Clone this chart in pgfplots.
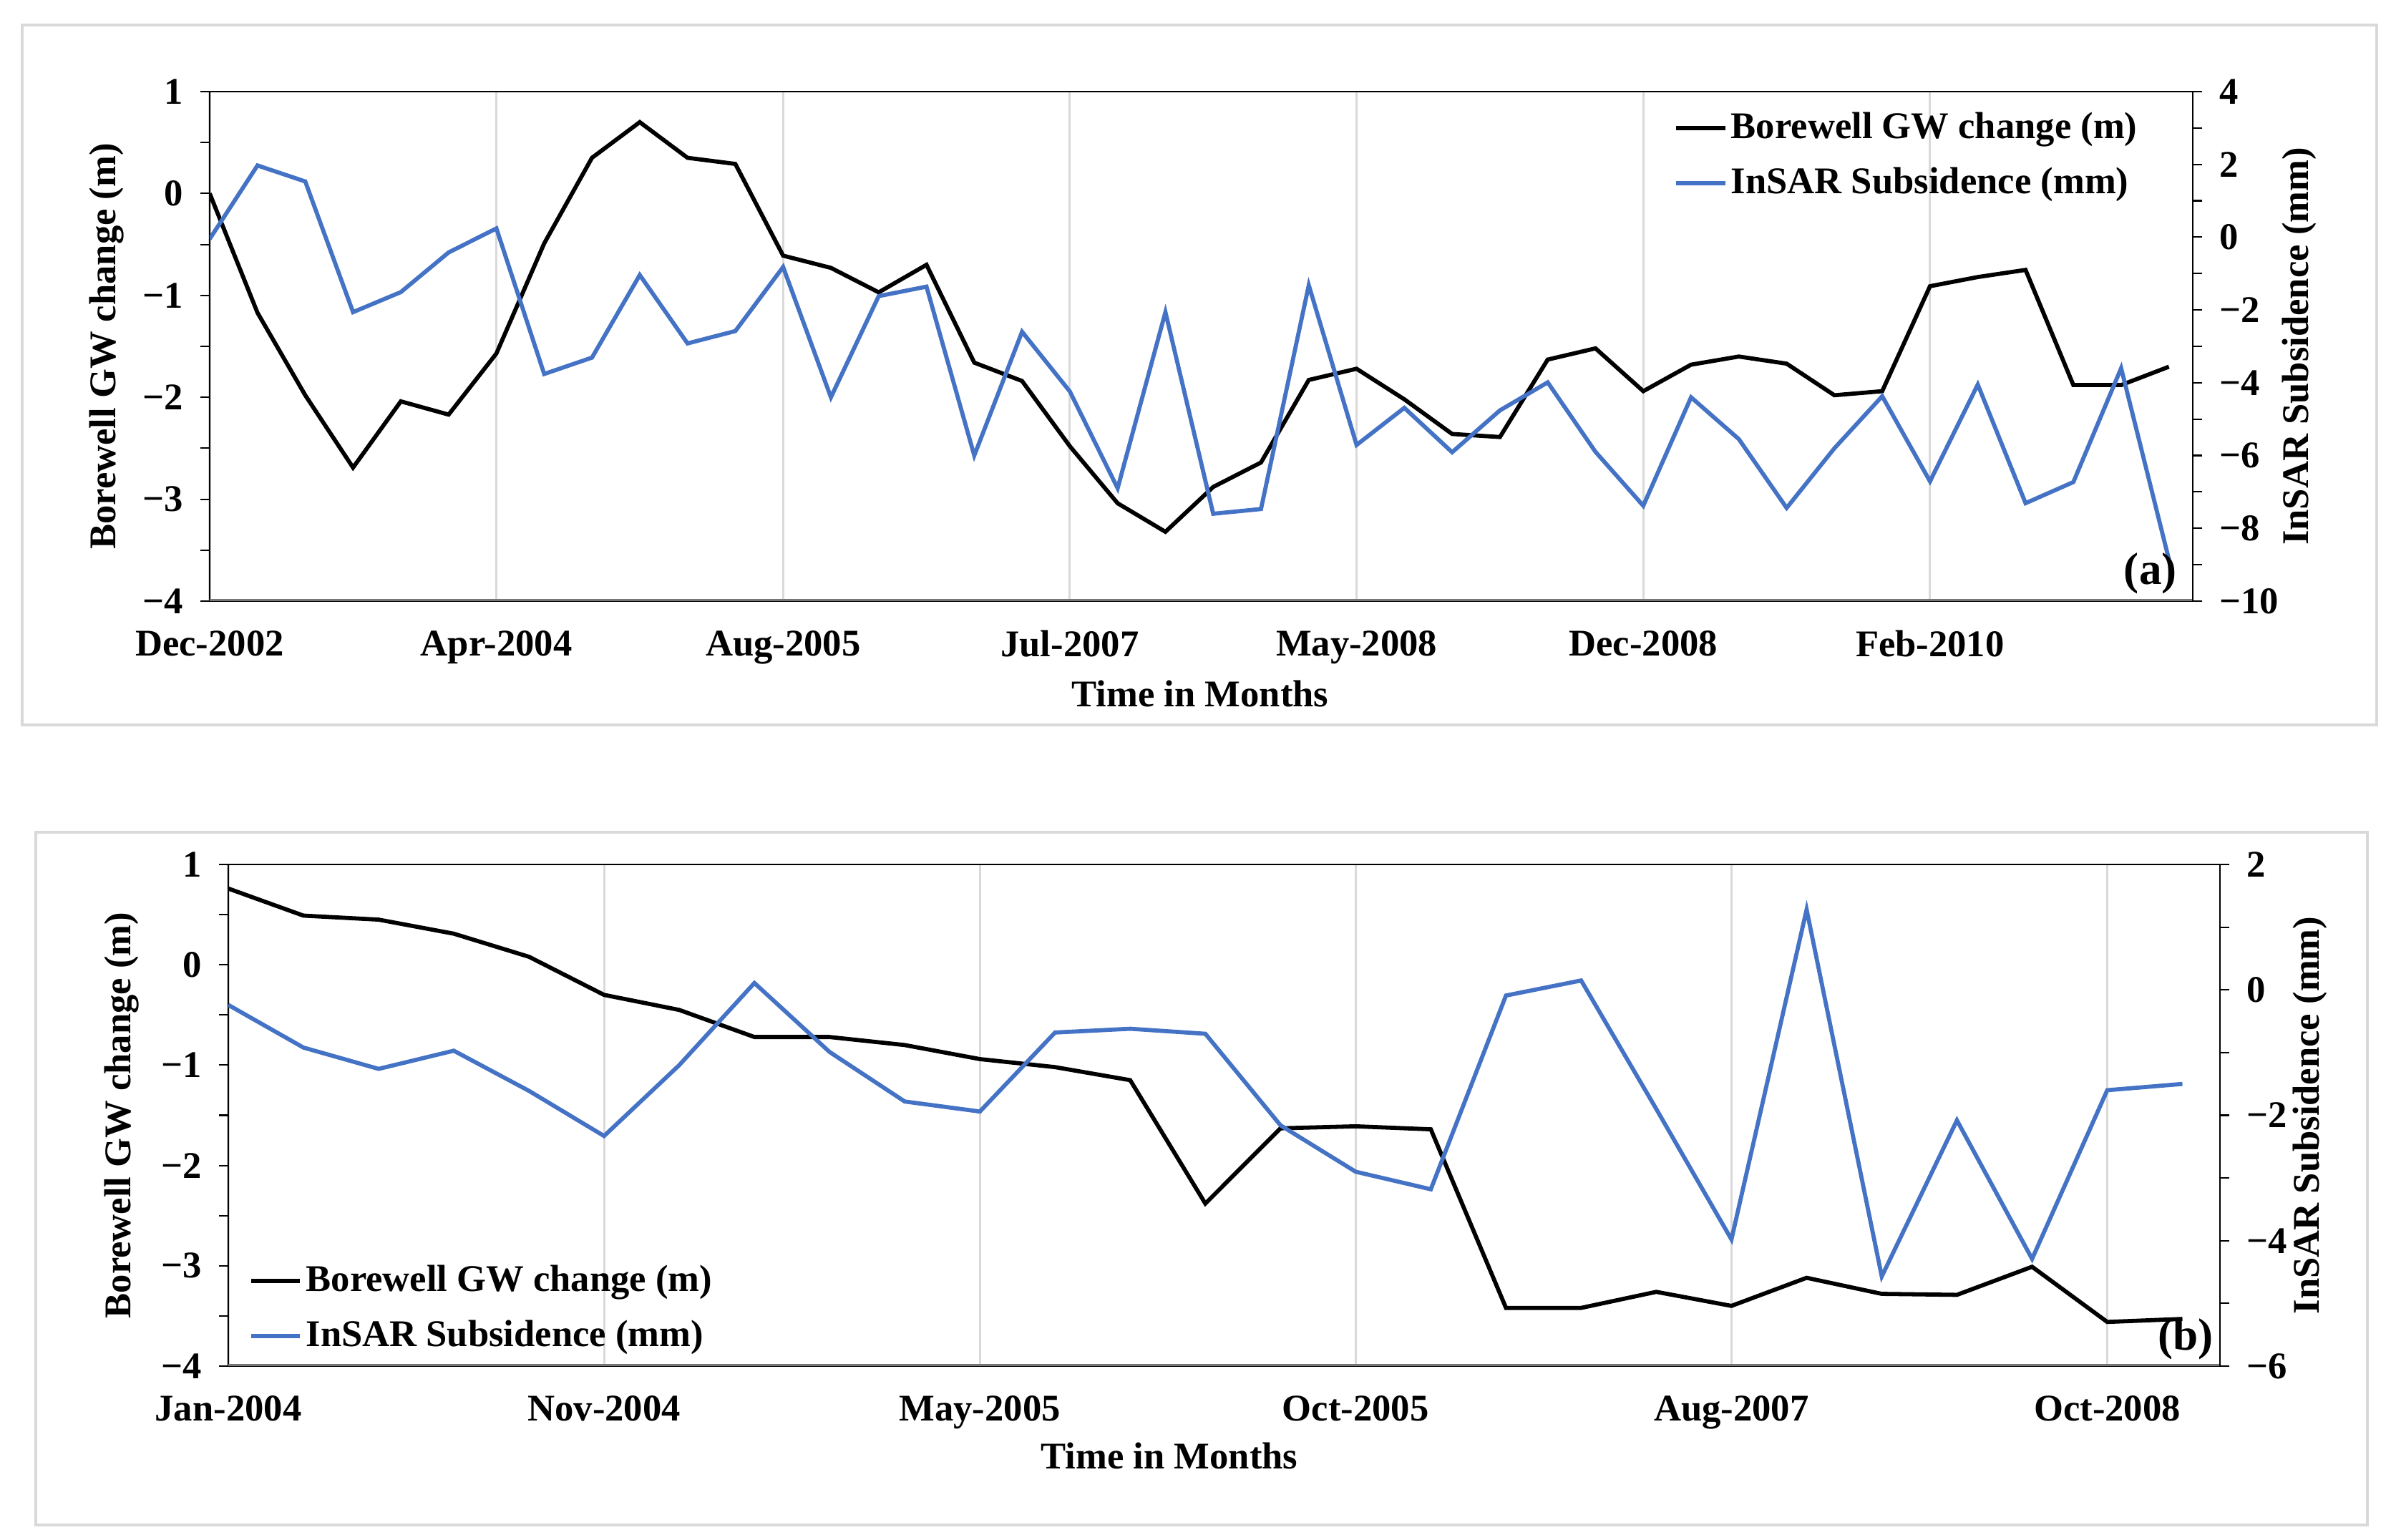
\documentclass[border=0pt]{standalone}
\usepackage{fontspec}
\setmainfont{Liberation Serif}
\usepackage{pgfplots}
\usepackage{pgfplotstable}
\pgfplotsset{compat=1.18}
\definecolor{insar}{RGB}{68,114,196}
\definecolor{gridc}{RGB}{217,217,217}
\definecolor{framec}{RGB}{217,217,217}
\definecolor{xaxc}{RGB}{118,118,118}

\pgfplotstableread{
i gw ins
0 0.00 -0.05
1 -1.17 1.97
2 -1.98 1.53
3 -2.69 -2.06
4 -2.04 -1.51
5 -2.17 -0.42
6 -1.57 0.24
7 -0.49 -3.76
8 0.35 -3.31
9 0.70 -1.04
10 0.35 -2.92
11 0.29 -2.58
12 -0.61 -0.82
13 -0.73 -4.40
14 -0.97 -1.62
15 -0.70 -1.36
16 -1.66 -6.00
17 -1.84 -2.60
18 -2.48 -4.24
19 -3.04 -6.90
20 -3.32 -2.06
21 -2.88 -7.60
22 -2.64 -7.47
23 -1.83 -1.32
24 -1.72 -5.71
25 -2.02 -4.69
26 -2.36 -5.91
27 -2.39 -4.76
28 -1.63 -3.99
29 -1.52 -5.90
30 -1.94 -7.38
31 -1.68 -4.40
32 -1.60 -5.55
33 -1.67 -7.44
34 -1.98 -5.80
35 -1.94 -4.37
36 -0.91 -6.71
37 -0.82 -4.05
38 -0.75 -7.31
39 -1.88 -6.73
40 -1.88 -3.60
41 -1.70 -8.86
}\tablea

\pgfplotstableread{
i gw ins
0 0.76 -0.24
1 0.49 -0.92
2 0.45 -1.26
3 0.31 -0.97
4 0.08 -1.61
5 -0.30 -2.33
6 -0.45 -1.20
7 -0.72 0.11
8 -0.72 -0.99
9 -0.80 -1.78
10 -0.94 -1.94
11 -1.02 -0.68
12 -1.15 -0.62
13 -2.38 -0.70
14 -1.63 -2.16
15 -1.61 -2.90
16 -1.64 -3.18
17 -3.42 -0.09
18 -3.42 0.15
19 -3.26 -1.90
20 -3.40 -3.98
21 -3.12 1.28
22 -3.28 -4.57
23 -3.29 -2.08
24 -3.01 -4.29
25 -3.56 -1.60
26 -3.53 -1.50
}\tableb

\pgfplotsset{
  common/.style={
    scale only axis, anchor=south west,
    font=\fontsize{10}{12}\selectfont\bfseries,
    tick label style={font=\fontsize{10}{12}\selectfont\bfseries},
    label style={font=\fontsize{10}{12}\selectfont\bfseries},
    tick align=outside,
    major tick length=2.5pt, minor tick length=2.5pt,
    every tick/.style={black, line width=0.4pt},
    axis line style={black, line width=0.5pt},
  },
  leftax/.style={
    common,
    xtick style={draw=none},
    xmajorgrids,
    major grid style={gridc, line width=0.6pt},
    ytick pos=left,
    xticklabel style={yshift=-1.8pt},
    yticklabel style={xshift=-1pt},
  },
  rightax/.style={
    common,
    axis x line=none,
    axis y line*=right,
    yticklabel style={xshift=1pt},
  },
  legstyle/.style={
    legend cell align=left,
    legend image code/.code={\draw[##1, line width=1.15pt] (0pt,0pt) -- (13pt,0pt);},
    legend style={draw=none, fill=none, inner sep=0pt, row sep=4.2pt,
      font=\fontsize{10}{12}\selectfont\bfseries, nodes={inner sep=1pt}},
  },
}

\begin{document}
\begin{tikzpicture}
\useasboundingbox (0pt,0pt) rectangle (634.79pt,408.88pt);
\draw[framec, line width=0.7pt] (5.89pt,216.41pt) rectangle (630.99pt,402.23pt);
\draw[framec, line width=0.7pt] (9.5pt,3.99pt) rectangle (628.52pt,187.91pt);

% ---------------- panel (a) ----------------
\begin{axis}[leftax,
  at={(55.67pt,249.28pt)}, width=526.5pt, height=135.28pt,
  xmin=0, xmax=41.5, ymin=-4, ymax=1,
  xtick={0,6,...,36},
  xticklabels={Dec-2002,Apr-2004,Aug-2005,Jul-2007,May-2008,Dec-2008,Feb-2010},
  ytick={-4,-3,...,1},
  yticklabels={−4,−3,−2,−1,0,1},
  minor ytick={-3.5,-2.5,-1.5,-0.5,0.5},
  xlabel={Time in Months},
  every axis x label/.style={at={(axis description cs:0.4995,-0.1826)}, anchor=center},
  ylabel={Borewell GW change (m)},
  every axis y label/.style={at={(axis description cs:-0.052,0.5)}, rotate=90, anchor=center},
]
\addplot[black, line width=1.1pt] table[x=i, y=gw] {\tablea};
\draw[xaxc, line width=1.1pt] (rel axis cs:0,0) -- (rel axis cs:1,0);
\end{axis}
\begin{axis}[rightax, legstyle,
  at={(55.67pt,249.28pt)}, width=526.5pt, height=135.28pt,
  xmin=0, xmax=41.5, ymin=-10, ymax=4,
  ytick={-10,-8,...,4},
  yticklabels={−10,−8,−6,−4,−2,0,2,4},
  minor ytick={-9,-7,...,3},
  ylabel={InSAR Subsidence (mm)},
  every axis y label/.style={at={(axis description cs:1.0538,0.5)}, rotate=90, anchor=center},
  legend style={at={(axis description cs:0.738,0.968)}, anchor=north west},
]
\addlegendimage{black}
\addlegendentry{Borewell GW change (m)}
\addplot[insar, line width=1.1pt] table[x=i, y=ins] {\tablea};
\addlegendentry{InSAR Subsidence (mm)}
\node[font=\fontsize{12}{14}\selectfont\bfseries] at (axis description cs:0.9786,0.055) {(a)};
\end{axis}

% ---------------- panel (b) ----------------
\begin{axis}[leftax,
  at={(60.61pt,46.17pt)}, width=528.77pt, height=133.19pt,
  xmin=0, xmax=26.5, ymin=-4, ymax=1,
  xtick={0,5,...,25},
  xticklabels={Jan-2004,Nov-2004,May-2005,Oct-2005,Aug-2007,Oct-2008},
  ytick={-4,-3,...,1},
  yticklabels={−4,−3,−2,−1,0,1},
  minor ytick={-3.5,-2.5,-1.5,-0.5,0.5},
  xlabel={Time in Months},
  every axis x label/.style={at={(axis description cs:0.4725,-0.1797)}, anchor=center},
  ylabel={Borewell GW change (m)},
  every axis y label/.style={at={(axis description cs:-0.0535,0.5)}, rotate=90, anchor=center},
]
\addplot[black, line width=1.1pt] table[x=i, y=gw] {\tableb};
\draw[xaxc, line width=1.1pt] (rel axis cs:0,0) -- (rel axis cs:1,0);
\end{axis}
\begin{axis}[rightax, legstyle,
  at={(60.61pt,46.17pt)}, width=528.77pt, height=133.19pt,
  xmin=0, xmax=26.5, ymin=-6, ymax=2,
  ytick={-6,-4,...,2},
  yticklabels={−6,−4,−2,0,2},
  minor ytick={-5,-3,-1,1},
  ylabel={InSAR Subsidence (mm)},
  every axis y label/.style={at={(axis description cs:1.0452,0.5)}, rotate=90, anchor=center},
  legend style={at={(axis description cs:0.010,0.210)}, anchor=north west},
]
\addlegendimage{black}
\addlegendentry{Borewell GW change (m)}
\addplot[insar, line width=1.1pt] table[x=i, y=ins] {\tableb};
\addlegendentry{InSAR Subsidence (mm)}
\node[font=\fontsize{12}{14}\selectfont\bfseries] at (axis description cs:0.9828,0.054) {(b)};
\end{axis}
\end{tikzpicture}
\end{document}
